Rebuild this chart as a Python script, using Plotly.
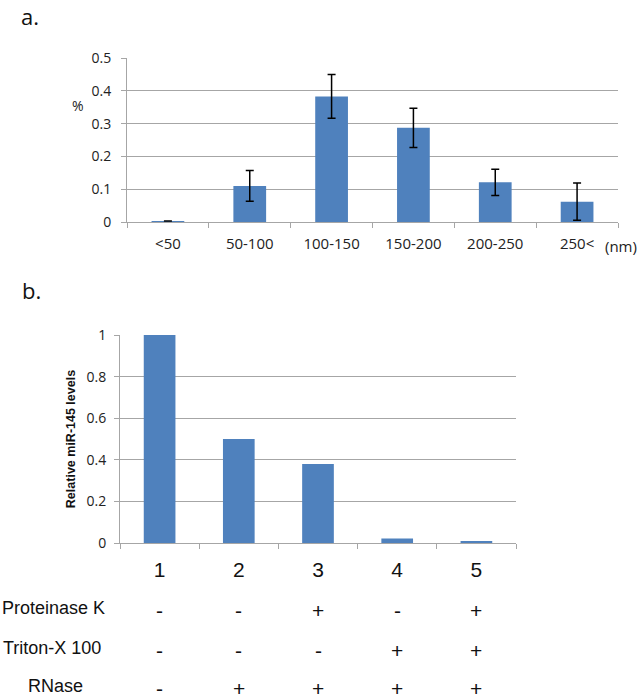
import plotly.graph_objects as go

# panel a: size distribution
size_bins = ["<50", "50-100", "100-150", "150-200", "200-250", "250<"]
size_pct = [0.003, 0.110, 0.383, 0.287, 0.121, 0.062]
size_err = [0.0, 0.047, 0.067, 0.060, 0.040, 0.057]

# panel b: relative miR-145 levels
lanes = ["1", "2", "3", "4", "5"]
mir145 = [1.0, 0.50, 0.38, 0.022, 0.006]
treat_names = ["Proteinase K", "Triton-X 100", "RNase"]
proteinase_k = ["-", "-", "+", "-", "+"]
triton = ["-", "-", "-", "+", "+"]
rnase = ["-", "+", "+", "+", "+"]

BLUE = "#4f81bd"
GRID = "#a6a6a6"
W, H = 641, 699

fig = go.Figure()
fig.add_trace(go.Bar(
    x=size_bins, y=size_pct, marker_color=BLUE, marker_line_width=0,
    error_y=dict(type="data", array=size_err, color="black", thickness=1.5, width=4),
    xaxis="x", yaxis="y", showlegend=False))
fig.add_trace(go.Bar(
    x=lanes, y=mir145, marker_color=BLUE, marker_line_width=0,
    xaxis="x2", yaxis="y2", showlegend=False))

tick_font = dict(family="Open Sans, sans-serif", size=14, color="#222")
axis_common = dict(showline=True, linecolor=GRID, linewidth=1, ticks="outside",
                   tickcolor=GRID, ticklen=5)

fig.update_layout(
    width=W, height=H, margin=dict(l=0, r=0, t=0, b=0, autoexpand=False),
    plot_bgcolor="white", paper_bgcolor="white", bargap=0.6,
    xaxis=dict(domain=[127 / W, 618 / W], anchor="y", type="category",
               tickson="boundaries", tickfont=dict(tick_font, size=15),
               ticklabelstandoff=8, showgrid=False, **axis_common),
    yaxis=dict(domain=[1 - 222 / H, 1 - 58 / H], anchor="x", range=[0, 0.5],
               dtick=0.1, tickfont=tick_font, ticklabelstandoff=7,
               showgrid=True, gridcolor=GRID, gridwidth=1.3, zeroline=False,
               **axis_common),
    xaxis2=dict(domain=[120 / W, 516 / W], anchor="y2", type="category",
                tickson="boundaries",
                tickfont=dict(family="Liberation Sans, Arial, sans-serif", size=21, color="#111"),
                ticklabelstandoff=8, showgrid=False, **axis_common),
    yaxis2=dict(domain=[1 - 543 / H, 1 - 335 / H], anchor="x2", range=[0, 1],
                dtick=0.2, tickfont=tick_font, ticklabelstandoff=5,
                showgrid=True, gridcolor=GRID, gridwidth=1.3, zeroline=False,
                title=dict(text="<b>Relative miR-145 levels</b>", standoff=8,
                           font=dict(family="Liberation Sans, Arial", size=12.5, color="#111")),
                **axis_common),
)

ann_font = dict(family="Liberation Sans, Arial, sans-serif", size=18, color="#111")
annotations = [
    dict(text="a.", x=20 / W, y=1, xref="paper", yref="paper", xanchor="left",
         yanchor="top", borderpad=0, showarrow=False,
         font=dict(family="Open Sans, sans-serif", size=22, color="#111")),
    dict(text="b.", x=20 / W, y=1 - 290 / H, xref="paper", yref="paper", xanchor="left",
         yanchor="middle", showarrow=False, font=dict(family="Open Sans, sans-serif", size=22, color="#111")),
    dict(text="%", x=78 / W, y=1 - 105 / H, xref="paper", yref="paper", xanchor="center",
         yanchor="middle", showarrow=False, font=dict(family="Open Sans, sans-serif", size=14, color="#222")),
    dict(text="(nm)", x=639 / W, y=1 - 246 / H, xref="paper", yref="paper", xanchor="right",
         yanchor="middle", showarrow=False, font=dict(family="Open Sans, sans-serif", size=15, color="#222")),
]
row_y = [608, 648, 686]
row_x = [53, 52, 55]
for name, signs, ry, rx in zip(treat_names, [proteinase_k, triton, rnase], row_y, row_x):
    annotations.append(dict(text=name, x=rx / W, y=1 - ry / H, xref="paper", yref="paper",
                            xanchor="center", yanchor="middle", showarrow=False, font=ann_font))
    for i, s in enumerate(signs):
        annotations.append(dict(text=s, x=i, y=1 - (ry + 2) / H, xref="x2", yref="paper",
                                xanchor="center", yanchor="middle", showarrow=False,
                                font=dict(ann_font, size=21)))
fig.update_layout(annotations=annotations)

# drop the default body margin so the figure sits at the window's top-left corner
fig.write_html("out.html", config={"displayModeBar": False},
               post_script="document.body.style.margin='0';")
